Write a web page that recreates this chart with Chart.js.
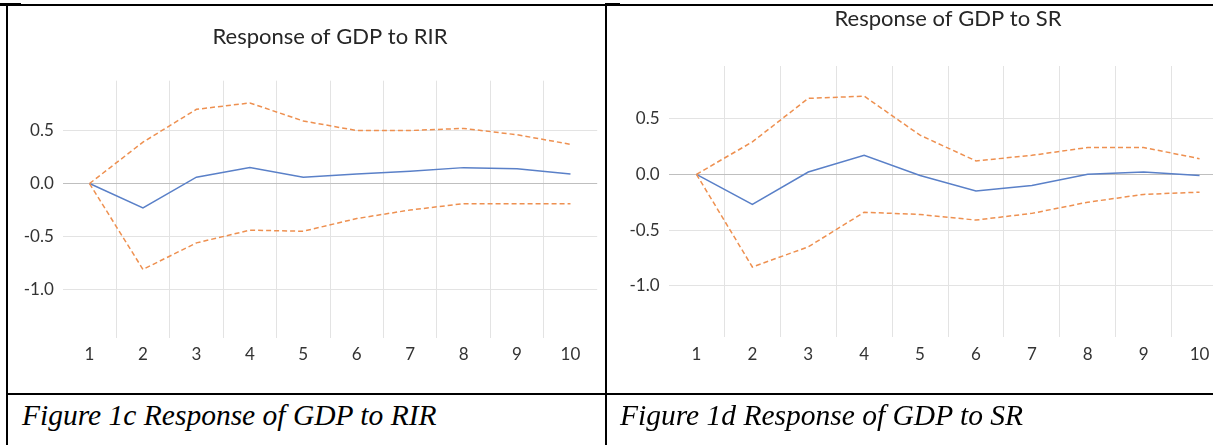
<!DOCTYPE html>
<html>
<head>
<meta charset="utf-8">
<script src="https://cdn.jsdelivr.net/npm/chart.js@4/dist/chart.umd.min.js"></script>
<style>
  body { margin: 0; width: 1213px; height: 445px; overflow: hidden; position: relative; background: #fff; }
  .box { position: absolute; }
  .rule { position: absolute; background: #000; }
  .caption { position: absolute; top: 399px; font-family: "Liberation Serif", "Times New Roman", serif; font-style: italic; font-size: 29.5px; color: #000; white-space: nowrap; }
</style>
</head>
<body>
<div class="box" style="left:8px;top:6px"><canvas id="rirChart" width="644" height="388"></canvas></div>
<div class="box" style="left:607px;top:6px"><canvas id="srChart" width="682" height="388"></canvas></div>

<div class="rule" style="left:0;top:3px;width:21px;height:3px"></div>
<div class="rule" style="left:7px;top:4px;width:1206px;height:1.5px"></div>
<div class="rule" style="left:605px;top:3px;width:15px;height:3px"></div>
<div class="rule" style="left:6px;top:4px;width:2px;height:441px"></div>
<div class="rule" style="left:605px;top:4px;width:2px;height:441px"></div>
<div class="rule" style="left:6px;top:393px;width:1207px;height:2px"></div>

<div class="caption" style="left:22px">Figure 1c Response of GDP to RIR</div>
<div class="caption" style="left:620px">Figure 1d Response of GDP to SR</div>

<script>
const periods = [1, 2, 3, 4, 5, 6, 7, 8, 9, 10];
const yTicks = [-1.0, -0.5, 0.0, 0.5];

// Response of GDP to RIR
const rirResponse = [0, -0.23, 0.06, 0.15, 0.06, 0.09, 0.115, 0.15, 0.14, 0.09];
const rirUpper = [0, 0.39, 0.70, 0.76, 0.59, 0.50, 0.50, 0.52, 0.46, 0.37];
const rirLower = [0, -0.81, -0.56, -0.44, -0.45, -0.33, -0.25, -0.19, -0.19, -0.19];

// Response of GDP to SR
const srResponse = [0, -0.27, 0.02, 0.17, -0.01, -0.15, -0.10, 0.0, 0.02, -0.01];
const srUpper = [0, 0.29, 0.68, 0.70, 0.35, 0.12, 0.17, 0.24, 0.24, 0.14];
const srLower = [0, -0.83, -0.65, -0.34, -0.36, -0.41, -0.35, -0.25, -0.18, -0.16];

const BLUE = "#5a80c8";
const ORANGE = "#ee9050";

Chart.defaults.font.family = "Lato, 'Noto Sans', sans-serif";
Chart.defaults.color = "#333";

function makeChart(canvasId, title, response, upper, lower, box)
{
	const band = (data) => ({
		data: data,
		borderColor: ORANGE,
		borderWidth: 1.5,
		borderDash: [5, 3],
		pointRadius: 0,
		fill: false
	});

	return new Chart(document.getElementById(canvasId), {
		type: "line",
		data: {
			labels: periods,
			datasets: [
				band(upper),
				band(lower),
				{ data: response, borderColor: BLUE, borderWidth: 1.5, pointRadius: 0, fill: false }
			]
		},
		options: {
			responsive: false,
			animation: false,
			events: [],
			plugins: {
				legend: { display: false },
				tooltip: { enabled: false },
				title: {
					display: true,
					text: title,
					color: "#262626",
					font: { size: 22, weight: "normal" },
					padding: { top: box.titleTop, bottom: box.titleBottom }
				}
			},
			scales: {
				x: {
					offset: true,
					grid: {
						offset: true,
						drawTicks: false,
						color: (ctx) => (ctx.type !== "tick" || ctx.index === 0) ? "transparent" : "#e3e3e3"
					},
					border: { display: false },
					ticks: { padding: box.xPad, font: { size: 17 }, maxRotation: 0, autoSkip: false },
					afterFit: (s) => { s.height = box.xHeight; }
				},
				y: {
					min: -1.46,
					max: 0.97,
					grid: {
						drawTicks: false,
						color: (ctx) => ctx.tick && ctx.tick.value === 0 ? "#bfbfbf" : "#e3e3e3"
					},
					border: { display: false },
					afterBuildTicks: (s) => { s.ticks = yTicks.map((v) => ({ value: v })); },
					ticks: { padding: 9, font: { size: 17 }, callback: (v) => Number(v).toFixed(1) },
					afterFit: (s) => { s.width = box.yWidth; }
				},
				// empty axis on the right so the title sits over the plot centre
				pad: {
					axis: "y",
					position: "right",
					grid: { display: false },
					border: { display: false },
					ticks: { display: false },
					afterFit: (s) => { s.width = box.yWidth; }
				}
			}
		}
	});
}

makeChart("rirChart", "Response of GDP to RIR", rirResponse, rirUpper, rirLower,
	{ titleTop: 18, titleBottom: 30.3, xPad: 6.5, xHeight: 55.7, yWidth: 54.8 });
makeChart("srChart", "Response of GDP to SR", srResponse, srUpper, srLower,
	{ titleTop: 0, titleBottom: 33.6, xPad: 7.5, xHeight: 56.7, yWidth: 61.5 });
</script>
</body>
</html>
